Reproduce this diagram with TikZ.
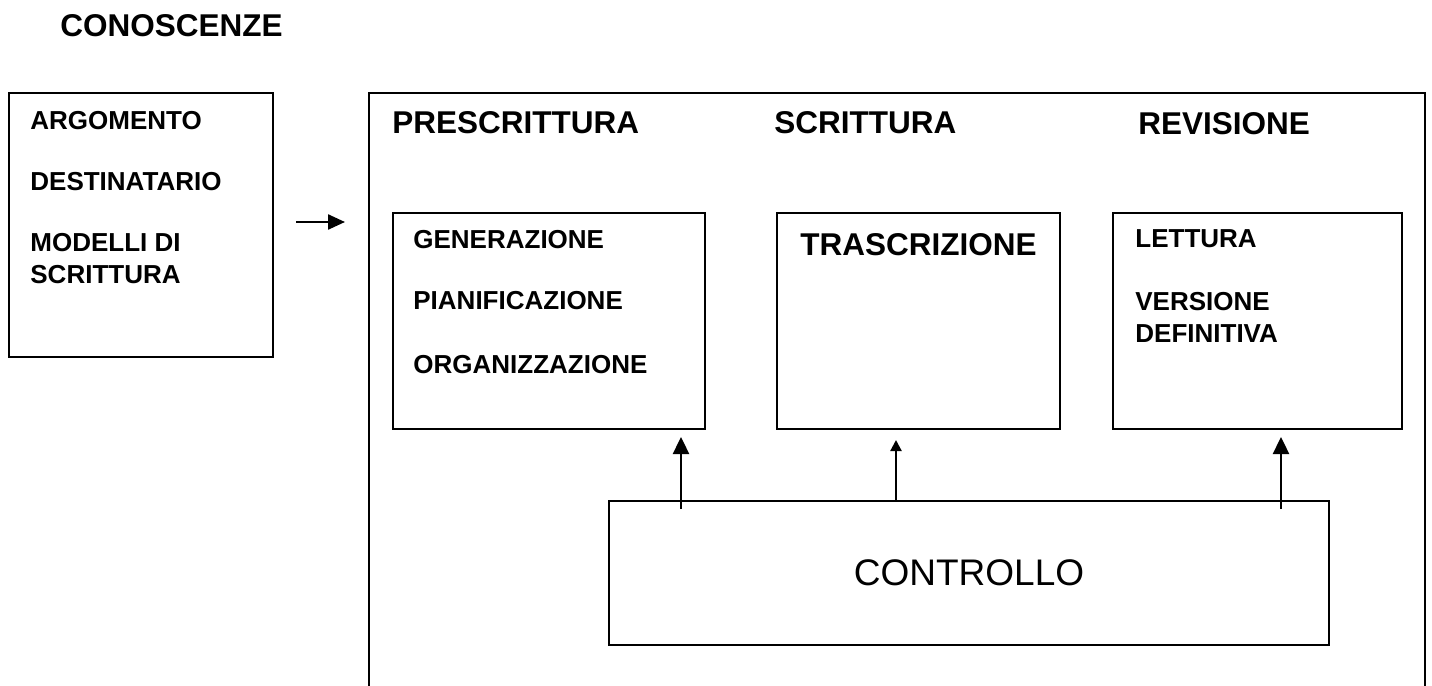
\documentclass[tikz,border=0pt]{standalone}
\usepackage{fontspec}
\setmainfont{Liberation Sans}
\usetikzlibrary{arrows.meta}
\tikzset{
 box/.style={draw,line width=0.8pt,inner sep=0pt,outer sep=0pt,anchor=north west},
 lbl/.style={font=\fontsize{13}{15}\selectfont\bfseries,anchor=base west,inner sep=0pt},
 phase/.style={font=\fontsize{15.75}{19}\selectfont\bfseries,anchor=base west,inner sep=0pt},
 bigup/.style={line width=1.2pt,-{Triangle[length=8.5pt,width=8pt]}},
 smallup/.style={line width=1.1pt,-{Triangle[length=5.5pt,width=5.5pt]}}
}
\begin{document}
\begin{tikzpicture}[x=0.5pt,y=-0.5pt,line join=miter]
 \useasboundingbox(0,0)rectangle(1432,686);
 \node[phase](conosc)at(60,36){CONOSCENZE};
 % sources of knowledge
 \node[box,minimum width=132pt,minimum height=132pt](sources)at(9,93){};
 \foreach \t/\y/\n in{ARGOMENTO/129/arg,DESTINATARIO/190/dest,MODELLI DI/251/mod,SCRITTURA/283/scr}
 \node[lbl](\n)at(30,\y){\t};
 % writing process frame, open at the bottom
 \draw[line width=0.9pt](369,686)|-(1425,93)--(1425,686);
 \coordinate(pin)at(345,222);
 \draw[line width=1.2pt,-{Triangle[length=8.5pt,width=7.5pt]}](sources.east)++(23,-3)--(pin);
 \node[phase](pre)at(392,133){PRESCRITTURA};
 \node[phase](scrit)at(774,133){SCRITTURA};
 \node[phase](revis)at(1138,134){REVISIONE};
 \node[box,minimum width=156pt,minimum height=108pt](gen)at(393,213){};
 \node[box,minimum width=141.5pt,minimum height=108pt](trasc)at(777,213){};
 \node[box,minimum width=144.5pt,minimum height=108pt](rev)at(1113,213){};
 \foreach \t/\y/\n in{GENERAZIONE/248/g1,PIANIFICAZIONE/309/g2,ORGANIZZAZIONE/373/g3}
 \node[lbl](\n)at(413,\y){\t};
 \node[phase](trtxt)at(800,255){TRASCRIZIONE};
 \foreach \t/\y/\n in{LETTURA/247/r1,VERSIONE/310/r2,DEFINITIVA/342/r3}
 \node[lbl](\n)at(1135,\y){\t};
 \node[box,minimum width=360pt,minimum height=72pt,font=\fontsize{18.5}{22}\selectfont](ctrl)at(609,501){CONTROLLO};
 \draw[bigup]([shift={(72,8)}]ctrl.north west)--([shift={(-24,8)}]gen.south east);
 \draw[smallup]([shift={(287,0)}]ctrl.north west)--([shift={(119,11)}]trasc.south west);
 \draw[bigup]([shift={(-48,8)}]ctrl.north east)--([shift={(-121,8)}]rev.south east);
\end{tikzpicture}
\end{document}
